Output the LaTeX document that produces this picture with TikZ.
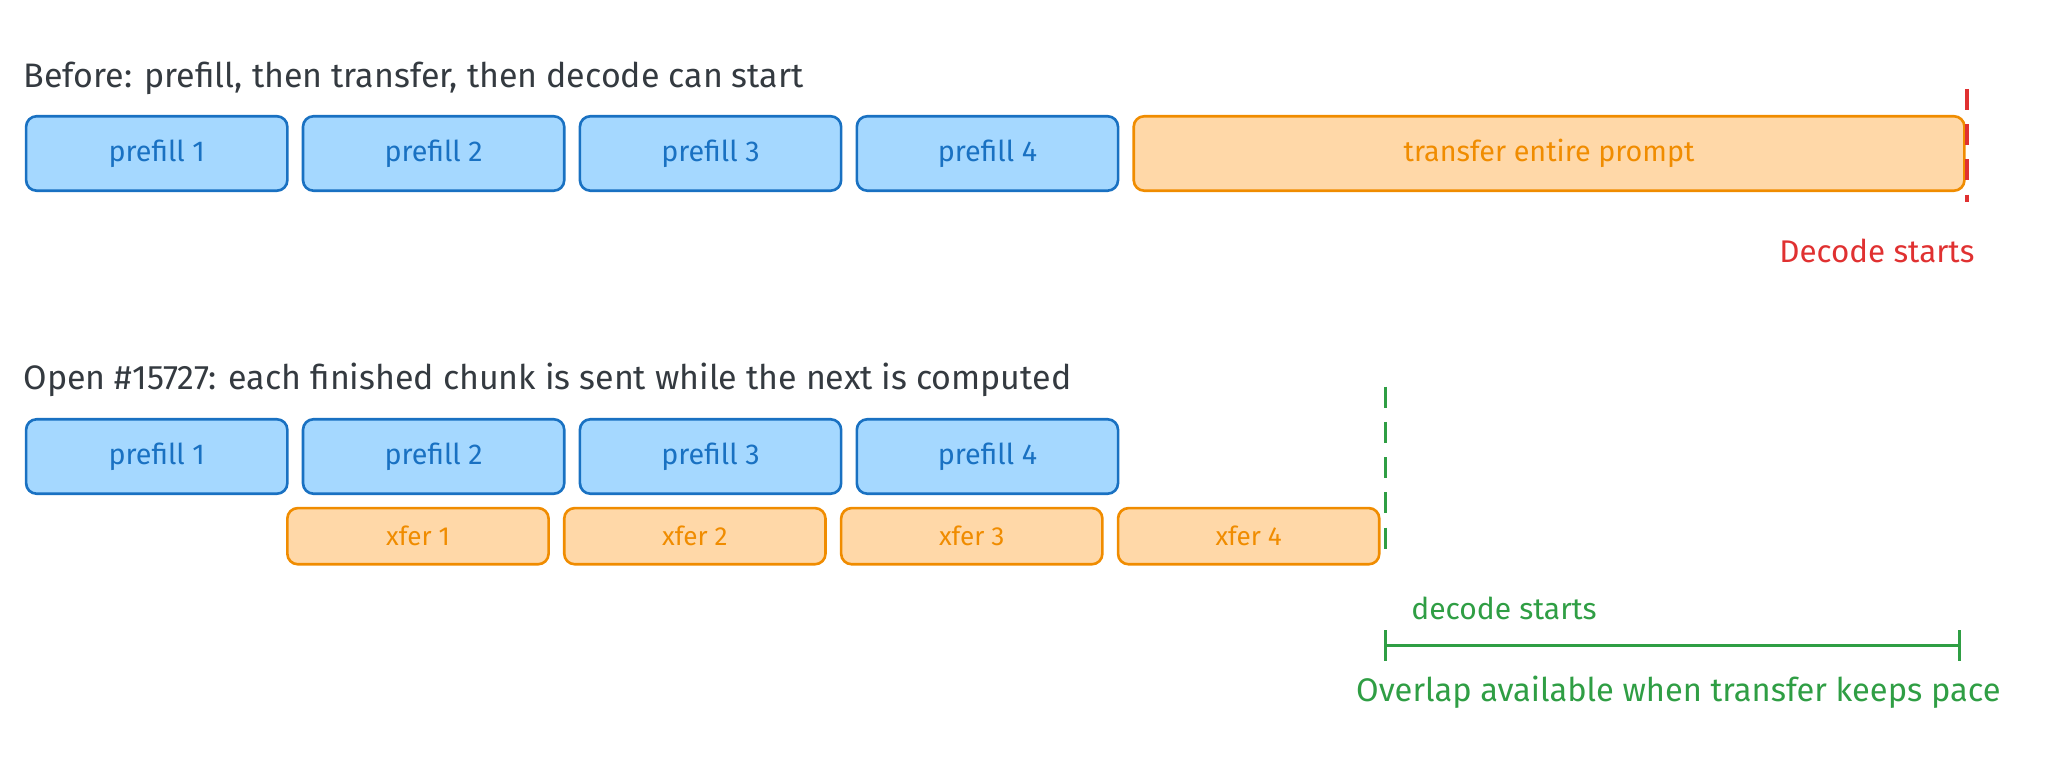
\documentclass[tikz,border=0pt]{standalone}
\usepackage{fontspec}
\setmainfont{Fira Sans}
\definecolor{bluefill}{HTML}{A5D8FF}
\definecolor{blueline}{HTML}{1971C2}
\definecolor{orfill}{HTML}{FFD8A8}
\definecolor{orline}{HTML}{F08C00}
\definecolor{redline}{HTML}{E03131}
\definecolor{greenline}{HTML}{2F9E44}
\definecolor{titletext}{HTML}{343A40}
\tikzset{
	chunk/.style={draw=blueline, fill=bluefill, text=blueline, line width=2pt, rounded corners=8pt, anchor=north west, inner sep=0pt, font=\fontsize{22}{26}\selectfont},
	xfer/.style={draw=orline, fill=orfill, text=orline, line width=2pt, rounded corners=8pt, anchor=north west, inner sep=0pt, font=\fontsize{20}{24}\selectfont},
	title/.style={anchor=west, text=titletext, inner sep=0pt, font=\fontsize{26}{30}\selectfont},
}
\begin{document}
\begin{tikzpicture}[x=1pt, y=-1pt]
			\useasboundingbox (0,0) rectangle (1568,589);
			\node [title] (t1) at (18,60) {Before: prefill, then transfer, then decode can start};
			\node [title] (t2) at (18,291) {Open \#15727: each finished chunk is sent while the next is computed};

			% serial row
			\foreach \i/\x in {1/19,2/231,3/443,4/655}
				\node [chunk, minimum width=200pt, minimum height=57pt] (a\i) at (\x,88) {prefill \i};
			\node [xfer, minimum width=636pt, minimum height=57pt, font=\fontsize{22}{26}\selectfont] (tr) at (867,88) {transfer entire prompt};
			\coordinate (r1) at (1506,68);
			\coordinate (r2) at (1506,155);
			\draw [redline, line width=2.4pt, dash pattern=on 16pt off 11pt] (r1) -- (r2);
			\node [text=redline, font=\fontsize{24}{28}\selectfont] (ds) at (1437,192) {Decode starts};

			% overlapped row
			\foreach \i/\x in {1/19,2/231,3/443,4/655}
				\node [chunk, minimum width=200pt, minimum height=57pt] (b\i) at (\x,320) {prefill \i};
			\foreach \i/\x in {1/219,2/431,3/643,4/855}
				\node [xfer, minimum width=200pt, minimum height=43pt] (x\i) at (\x,388) {xfer \i};
			\coordinate (g1) at (1061,296);
			\coordinate (g2) at (1061,430);
			\draw [greenline, line width=2.4pt, dash pattern=on 16pt off 11pt] (g1) -- (g2);
			\node [anchor=west, text=greenline, font=\fontsize{23}{27}\selectfont] (dn) at (1077,466) {decode starts};

			\coordinate (o1) at (1061,494);
			\coordinate (o2) at (1500,494);
			\draw [greenline, line width=2.4pt] (o1) -- (o2);
			\draw [greenline, line width=2.4pt] ([yshift=-12pt]o1) -- ([yshift=12pt]o1);
			\draw [greenline, line width=2.4pt] ([yshift=-12pt]o2) -- ([yshift=12pt]o2);
			\node [text=greenline, font=\fontsize{25}{29}\selectfont] (ov) at (1285,530) {Overlap available when transfer keeps pace};
		\end{tikzpicture}
\end{document}
